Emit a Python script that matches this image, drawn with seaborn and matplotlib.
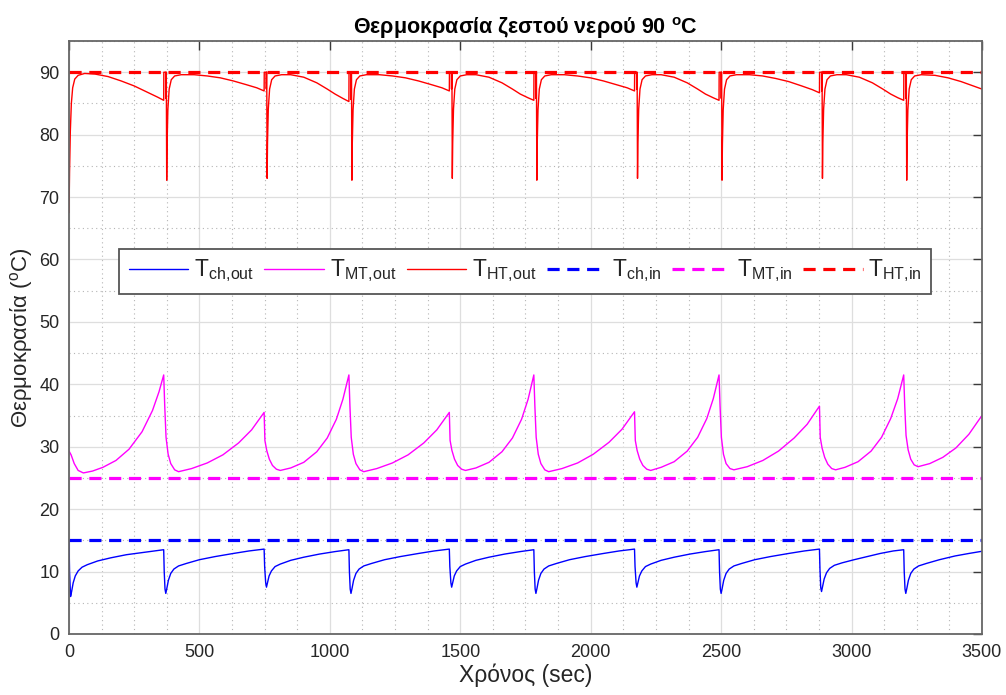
import matplotlib
matplotlib.use("Agg")
import matplotlib.pyplot as plt
from matplotlib.ticker import MultipleLocator
import seaborn as sns
import pandas as pd

# ---------------- data ----------------
t_range = [0, 3500]
ch_in = 15
mt_in = 25
ht_in = 90

ch_out_t = [0, 2, 6, 10, 16, 24, 35, 50, 70, 110, 160, 220, 290, 363,
            365, 368, 371, 375, 381, 390, 402, 420, 450, 500, 560, 630, 690, 748,
            750, 754, 757, 761, 767, 776, 790, 810, 850, 900, 960, 1020, 1073,
            1075, 1078, 1081, 1085, 1091, 1100, 1112, 1130, 1160, 1210, 1270, 1340, 1400, 1458,
            1460, 1464, 1467, 1471, 1477, 1486, 1500, 1520, 1560, 1610, 1670, 1730, 1782,
            1784, 1787, 1790, 1794, 1800, 1809, 1821, 1839, 1869, 1919, 1979, 2049, 2109, 2168,
            2170, 2174, 2177, 2181, 2187, 2196, 2210, 2230, 2270, 2320, 2380, 2440, 2492,
            2494, 2497, 2500, 2504, 2510, 2519, 2531, 2549, 2579, 2629, 2689, 2759, 2819, 2877,
            2879, 2882, 2885, 2889, 2895, 2904, 2916, 2934, 2964, 3010, 3060, 3110, 3160, 3200,
            3202, 3205, 3208, 3212, 3218, 3227, 3239, 3257, 3287, 3337, 3397, 3450, 3500]
ch_out_v = [15.0, 10.0, 6.0, 6.8, 8.2, 9.3, 10.1, 10.7, 11.1, 11.7, 12.2, 12.7, 13.1, 13.5,
            10.0, 7.2, 6.5, 7.3, 8.6, 9.7, 10.4, 10.9, 11.3, 11.9, 12.4, 12.9, 13.3, 13.6,
            10.8, 8.2, 7.5, 8.2, 9.3, 10.1, 10.8, 11.2, 11.8, 12.3, 12.8, 13.2, 13.5,
            10.0, 7.2, 6.5, 7.3, 8.6, 9.7, 10.4, 10.9, 11.3, 11.9, 12.4, 12.9, 13.3, 13.6,
            10.8, 8.2, 7.5, 8.2, 9.3, 10.1, 10.8, 11.2, 11.8, 12.3, 12.8, 13.2, 13.5,
            10.0, 7.2, 6.5, 7.3, 8.6, 9.7, 10.4, 10.9, 11.3, 11.9, 12.4, 12.9, 13.3, 13.6,
            10.8, 8.2, 7.5, 8.2, 9.3, 10.1, 10.8, 11.2, 11.8, 12.3, 12.8, 13.2, 13.5,
            10.0, 7.2, 6.5, 7.3, 8.6, 9.7, 10.4, 10.9, 11.3, 11.9, 12.4, 12.9, 13.3, 13.6,
            10.3, 7.4, 6.8, 7.6, 8.8, 9.8, 10.5, 11.0, 11.4, 11.9, 12.4, 12.9, 13.3, 13.5,
            10.0, 7.2, 6.5, 7.3, 8.6, 9.7, 10.4, 10.9, 11.3, 11.9, 12.5, 12.9, 13.25]

mt_out_t = [0, 8, 20, 35, 55, 90, 130, 180, 230, 280, 320, 345, 363,
            367, 372, 380, 390, 405, 420,
            470, 530, 590, 650, 700, 748,
            751, 758, 768, 780, 795, 810,
            850, 900, 950, 990, 1025, 1050, 1073,
            1077, 1082, 1090, 1100, 1115, 1130,
            1180, 1240, 1300, 1360, 1410, 1458,
            1461, 1468, 1478, 1490, 1505, 1520,
            1560, 1610, 1660, 1700, 1735, 1760, 1782,
            1786, 1791, 1799, 1809, 1824, 1839,
            1890, 1950, 2010, 2070, 2120, 2168,
            2171, 2178, 2188, 2200, 2215, 2230,
            2270, 2320, 2370, 2410, 2445, 2470, 2492,
            2496, 2501, 2509, 2519, 2534, 2549,
            2600, 2660, 2720, 2780, 2830, 2877,
            2880, 2887, 2897, 2909, 2924, 2939,
            2975, 3025, 3075, 3115, 3150, 3177, 3200,
            3204, 3209, 3217, 3227, 3240, 3255,
            3300, 3350, 3400, 3450, 3500]
mt_out_v = [29.3, 28.7, 27.3, 26.2, 25.8, 26.1, 26.7, 27.8, 29.6, 32.4, 35.8, 38.8, 41.5,
            36.5, 31.5, 28.8, 27.3, 26.3, 26.0,
            26.5, 27.4, 28.7, 30.6, 32.7, 35.5,
            31.0, 29.4, 28.0, 27.0, 26.4, 26.2,
            26.6, 27.5, 29.2, 31.4, 34.4, 37.6, 41.5,
            36.5, 31.5, 28.8, 27.3, 26.3, 26.0,
            26.5, 27.4, 28.7, 30.6, 32.7, 35.5,
            31.0, 29.4, 28.0, 27.0, 26.4, 26.2,
            26.6, 27.5, 29.2, 31.4, 34.4, 37.6, 41.5,
            36.5, 31.5, 28.8, 27.3, 26.3, 26.0,
            26.5, 27.4, 28.8, 30.7, 32.8, 35.6,
            31.0, 29.4, 28.0, 27.0, 26.4, 26.2,
            26.7, 27.6, 29.3, 31.5, 34.5, 37.7, 41.5,
            36.5, 31.5, 28.8, 27.3, 26.5, 26.3,
            26.8, 27.8, 29.3, 31.4, 33.6, 36.5,
            31.5, 29.8, 28.3, 27.2, 26.5, 26.3,
            26.7, 27.6, 29.3, 31.5, 34.5, 37.7, 41.5,
            36.5, 31.8, 29.5, 28.0, 27.1, 26.8,
            27.3, 28.3, 29.8, 32.0, 35.0]

ht_out_t = [0, 2, 5, 9, 14, 22, 35, 60, 100, 150, 200, 250, 300, 340, 363,
            363.5, 371, 371.5, 372, 373, 374.5, 376, 379, 384, 392, 405, 430,
            480, 530, 580, 630, 680, 720, 748,
            748.5, 756, 756.5, 757, 758, 759.5, 761, 764, 769, 777, 790, 815,
            850, 900, 950, 990, 1020, 1050, 1073,
            1073.5, 1081, 1081.5, 1082, 1083, 1084.5, 1086, 1089, 1094, 1102, 1115, 1140,
            1190, 1240, 1290, 1340, 1390, 1430, 1458,
            1458.5, 1466, 1466.5, 1467, 1468, 1469.5, 1471, 1474, 1479, 1487, 1500, 1525,
            1560, 1610, 1660, 1700, 1730, 1760, 1782,
            1782.5, 1790, 1790.5, 1791, 1792, 1793.5, 1795, 1798, 1803, 1811, 1824, 1849,
            1899, 1949, 1999, 2049, 2099, 2140, 2168,
            2168.5, 2176, 2176.5, 2177, 2178, 2179.5, 2181, 2184, 2189, 2197, 2210, 2235,
            2270, 2320, 2370, 2410, 2440, 2470, 2492,
            2492.5, 2500, 2500.5, 2501, 2502, 2503.5, 2505, 2508, 2513, 2521, 2534, 2559,
            2609, 2659, 2709, 2759, 2809, 2850, 2877,
            2877.5, 2885, 2885.5, 2886, 2887, 2888.5, 2890, 2893, 2898, 2906, 2919, 2944,
            2980, 3030, 3080, 3120, 3150, 3178, 3200,
            3200.5, 3208, 3208.5, 3209, 3210, 3211.5, 3213, 3216, 3221, 3229, 3242, 3267,
            3320, 3370, 3420, 3460, 3500]
ht_out_v = [67.5, 74.0, 80.5, 85.0, 87.5, 88.9, 89.5, 89.8, 89.7, 89.3, 88.6, 87.8, 86.8, 86.0, 85.5,
            90.0, 90.0, 85.8, 90.0, 90.0, 72.7, 78.5, 84.0, 87.3, 88.8, 89.4, 89.6,
            89.6, 89.4, 89.1, 88.6, 88.0, 87.5, 87.0,
            90.0, 90.0, 87.3, 90.0, 90.0, 73.0, 78.7, 84.1, 87.3, 88.8, 89.4, 89.6,
            89.6, 89.2, 88.3, 87.3, 86.5, 85.8, 85.3,
            90.0, 90.0, 85.6, 90.0, 90.0, 72.7, 78.5, 84.0, 87.3, 88.8, 89.4, 89.6,
            89.6, 89.4, 89.1, 88.6, 88.0, 87.5, 87.0,
            90.0, 90.0, 87.3, 90.0, 90.0, 73.0, 78.7, 84.1, 87.3, 88.8, 89.4, 89.6,
            89.6, 89.2, 88.3, 87.3, 86.5, 85.9, 85.5,
            90.0, 90.0, 85.8, 90.0, 90.0, 72.7, 78.5, 84.0, 87.3, 88.8, 89.4, 89.6,
            89.6, 89.4, 89.1, 88.6, 88.0, 87.5, 87.0,
            90.0, 90.0, 87.3, 90.0, 90.0, 73.0, 78.7, 84.1, 87.3, 88.8, 89.4, 89.6,
            89.6, 89.2, 88.3, 87.3, 86.5, 85.9, 85.5,
            90.0, 90.0, 85.8, 90.0, 90.0, 72.7, 78.5, 84.0, 87.3, 88.8, 89.4, 89.6,
            89.6, 89.4, 89.0, 88.5, 87.8, 87.2, 86.7,
            90.0, 90.0, 87.0, 90.0, 90.0, 73.0, 78.7, 84.1, 87.3, 88.8, 89.4, 89.6,
            89.6, 89.2, 88.3, 87.3, 86.5, 85.9, 85.5,
            90.0, 90.0, 85.8, 90.0, 90.0, 72.7, 78.5, 84.0, 87.3, 88.8, 89.4, 89.6,
            89.5, 89.1, 88.5, 87.9, 87.3]

labels = [r'$\mathrm{T_{ch,\!out}}$', r'$\mathrm{T_{MT,\!out}}$', r'$\mathrm{T_{HT,\!out}}$',
          r'$\mathrm{T_{ch,\!in}}$', r'$\mathrm{T_{MT,\!in}}$', r'$\mathrm{T_{HT,\!in}}$']
colors = ['#0000ff', '#ff00ff', '#ff0000']

# ---------------- style ----------------
sns.set_style("white")
plt.rcParams['font.family'] = ['Liberation Sans', 'DejaVu Sans']
plt.rcParams['mathtext.fontset'] = 'custom'
plt.rcParams['mathtext.rm'] = 'Liberation Sans'
plt.rcParams['mathtext.it'] = 'Liberation Sans:italic'
plt.rcParams['mathtext.bf'] = 'Liberation Sans:bold'

fig = plt.figure(figsize=(10.06, 6.95), dpi=100)
ax = fig.add_axes([0.0686, 0.0878, 0.9075, 0.8532])

solid = [(ch_out_t, ch_out_v), (mt_out_t, mt_out_v), (ht_out_t, ht_out_v)]
for (tt, vv), c, lab in zip(solid, colors, labels[:3]):
    df = pd.DataFrame({'t': tt, 'v': vv})
    sns.lineplot(data=df, x='t', y='v', color=c, lw=1.0, label=lab,
                 estimator=None, sort=False, ax=ax)

for val, c, lab in zip([ch_in, mt_in, ht_in], colors, labels[3:]):
    df = pd.DataFrame({'t': t_range, 'v': [val, val]})
    sns.lineplot(data=df, x='t', y='v', color=c, lw=2.3, label=lab,
                 estimator=None, sort=False, ax=ax, dashes=False)
    ax.lines[-1].set_dashes((3.8, 2.4))

ax.set_xlim(0, 3500)
ax.set_ylim(0, 95)
ax.xaxis.set_major_locator(MultipleLocator(500))
ax.yaxis.set_major_locator(MultipleLocator(10))
ax.xaxis.set_minor_locator(MultipleLocator(125))
ax.yaxis.set_minor_locator(MultipleLocator(5))
ax.set_axisbelow(True)
ax.grid(which='major', color='#dedede', lw=0.9, ls='-')
ax.grid(which='minor', color='#b5b5b5', lw=0.8, ls=(0, (1, 3)))
ax.tick_params(which='major', direction='in', top=True, right=True, length=6.5,
               width=1.0, color='#3a3a3a', labelsize=13, labelcolor='#262626', pad=7)
ax.tick_params(which='minor', length=0)
for sp in ax.spines.values():
    sp.set_color('#666666')
    sp.set_linewidth(1.3)

ax.set_xlabel('Χρόνος (sec)', fontsize=16.5, color='#262626', labelpad=2)
ax.set_ylabel('Θερμοκρασία ($^{\\mathrm{o}}$C)', fontsize=16, color='#262626', labelpad=3)
ax.set_title('Θερμοκρασία ζεστού νερού 90 $^{\\mathbf{o}}$C', fontsize=15.5,
             fontweight='bold', color='#000000', pad=5)

leg = ax.legend(loc='center', bbox_to_anchor=(0.5, 0.612), ncol=6, fontsize=16.5,
                frameon=True, fancybox=False, framealpha=1, edgecolor='#555555',
                handlelength=2.6, handletextpad=0.25, columnspacing=0.45,
                borderpad=0.4, borderaxespad=0)
leg.get_frame().set_linewidth(1.3)

fig.savefig('out.png', dpi=100)
